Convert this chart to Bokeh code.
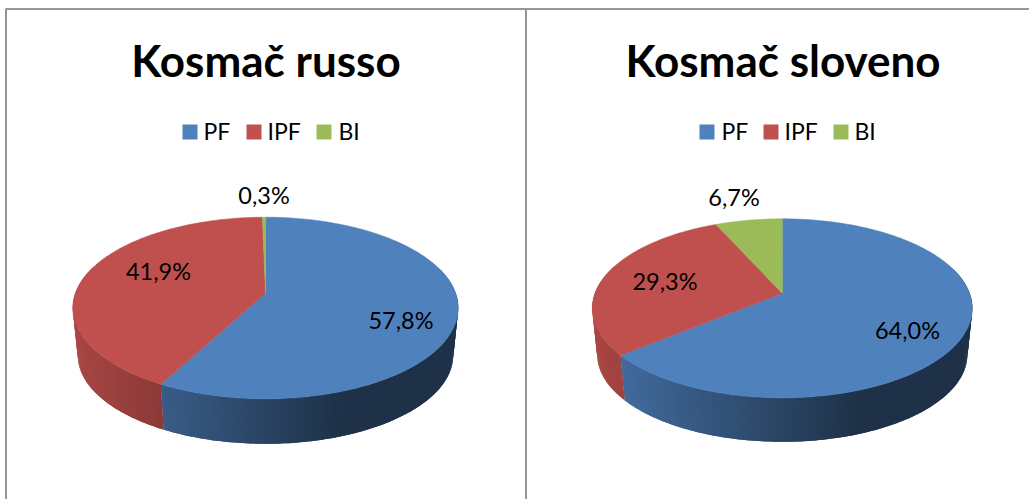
import math
from bokeh.plotting import figure
from bokeh.embed import file_html
from bokeh.resources import INLINE
from bokeh.core.properties import value

categories = ["PF", "IPF", "BI"]
titles = ["Kosmač russo", "Kosmač sloveno"]
values_russo = [57.8, 41.9, 0.3]
values_sloveno = [64.0, 29.3, 6.7]
labels_russo = ["57,8%", "41,9%", "0,3%"]
labels_sloveno = ["64,0%", "29,3%", "6,7%"]
colors = [(79, 129, 189), (192, 80, 77), (155, 187, 89)]

WIDTH, HEIGHT = 1029, 499
FONT = value("Lato")

p = figure(width=WIDTH, height=HEIGHT, x_range=(0, WIDTH), y_range=(HEIGHT, 0),
           toolbar_location=None, output_backend="svg", min_border=0,
           styles={"position": "absolute", "left": "0px", "top": "0px"})
p.axis.visible = False
p.grid.visible = False
p.outline_line_color = None
p.background_fill_color = "white"
p.border_fill_color = "white"


def hexc(c):
    return "#%02x%02x%02x" % tuple(int(round(v)) for v in c)


def shade(c, t):
    # darkening of the rim, running from left to right
    m = 0.88 - (t + 1) * 0.357 if t < 0.4 else 0.38
    return hexc([v * m for v in c])


def pie(vals, labels, title, cx, ax, top, bottom, apex_y, rim_bottom, f, title_x, leg_sw, leg_tx, leg_y, lab_pos):
    near = bottom - apex_y
    far = apex_y - top
    k = (near - far) / (near + far)
    b = near * (1 - k)
    a = ax * math.sqrt(1 - k * k)
    drop = rim_bottom - apex_y - f * near

    def proj(ang, scale=1.0, dy=0.0):
        X, Y = math.sin(ang), -math.cos(ang)
        w = 1 - k * Y
        return cx + scale * a * X / w, apex_y + dy + scale * b * Y / w

    total = sum(vals)
    start = 0.0
    quads = {"xs": [], "ys": [], "c": []}
    faces = {"xs": [], "ys": [], "c": []}
    for v, col in zip(vals, colors):
        end = start + v / total * 2 * math.pi
        n = max(2, int(math.degrees(end - start)))
        angs = [start + (end - start) * i / n for i in range(n + 1)]
        pts = [proj(t) for t in angs]
        faces["xs"].append([cx] + [q[0] for q in pts])
        faces["ys"].append([apex_y] + [q[1] for q in pts])
        faces["c"].append(hexc(col))
        for i in range(n):
            a0, a1 = angs[i], angs[i + 1]
            if -math.cos((a0 + a1) / 2) < -0.3:
                continue
            # each band reaches under the next one, so that no seam shows
            a2 = angs[min(i + 2, n)]
            x0, y0 = proj(a0)
            x1, y1 = proj(a1)
            x2, y2 = proj(a2)
            x3, y3 = proj(a2, f, drop)
            x4, y4 = proj(a1, f, drop)
            x5, y5 = proj(a0, f, drop)
            quads["xs"].append([x0, x1, x2, x3, x4, x5])
            quads["ys"].append([y0, y1, y2, y3, y4, y5])
            quads["c"].append(shade(col, ((x0 + x1) / 2 - cx) / ax))
        start = end
    p.patches("xs", "ys", source=quads, fill_color="c", line_color=None)
    p.patches("xs", "ys", source=faces, fill_color="c", line_color="c", line_width=0.5)

    p.text([title_x], [59], text=[title], text_font=FONT, text_font_style="bold", text_font_size="44px",
           text_align="center", text_baseline="middle", text_color="black")
    for name, col, sx, tx in zip(categories, colors, leg_sw, leg_tx):
        p.quad(left=[sx], right=[sx + 15], top=[leg_y - 7.5], bottom=[leg_y + 7.5], fill_color=hexc(col), line_color=None)
        p.text([tx], [leg_y - 1], text=[name], text_font=FONT, text_font_size="23px",
               text_align="left", text_baseline="middle", text_color="black")
    for lab, (lx, ly) in zip(labels, lab_pos):
        p.text([lx], [ly], text=[lab], text_font=FONT, text_font_size="23.5px",
               text_align="center", text_baseline="middle", text_color="black")


pie(values_russo, labels_russo, titles[0], 265.0, 192.7, 216.7, 398.3, 292.7, 443.3, 0.974,
    265.5, [182, 246, 316], [203, 267, 338], 131.5,
    [(400.5, 319), (158, 270), (263.5, 194)])
pie(values_sloveno, labels_sloveno, titles[1], 781.8, 190, 218.3, 397.3, 292.7, 441.3, 0.974,
    782.5, [699, 763, 833], [721, 784, 854], 131.5,
    [(907, 329), (664.5, 280), (733.5, 196)])

# frame lines of the two chart boxes
GRAY = "#969696"
p.segment([5], [8.5], [WIDTH], [8.5], line_color=GRAY, line_width=2)
p.segment([5.5], [8.5], [5.5], [HEIGHT], line_color=GRAY, line_width=2)
p.segment([525.5], [8.5], [525.5], [HEIGHT], line_color=GRAY, line_width=2)

open("out.html", "w").write(file_html(p, INLINE))
